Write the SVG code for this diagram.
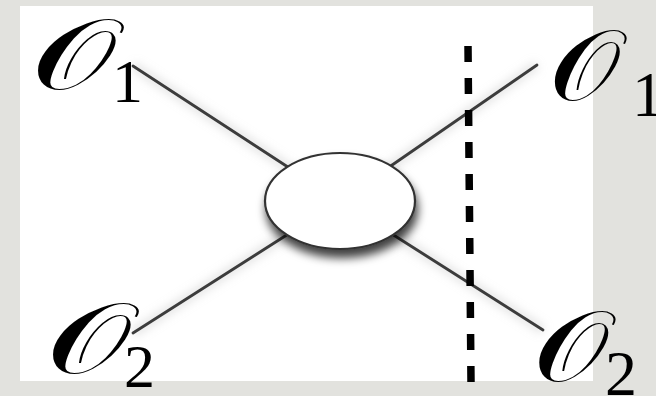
<svg xmlns="http://www.w3.org/2000/svg" width="656" height="396" viewBox="0 0 656 396">
  <defs>
    <filter id="blobShadow" x="-30%" y="-30%" width="160%" height="180%">
      <feDropShadow dx="2" dy="8" stdDeviation="5" flood-color="#000" flood-opacity="0.75"/>
    </filter>
    <filter id="haze" x="-10%" y="-10%" width="120%" height="120%">
      <feGaussianBlur stdDeviation="4"/>
    </filter>
  </defs>
  <style>
    .leg { stroke: #3c3c3c; stroke-width: 2.8; stroke-linecap: round; fill: none; }
    .legHaze { stroke: #bcbcbc; stroke-width: 10; fill: none; opacity: 0.35; }
    .cut { stroke: #000; stroke-width: 7.5; stroke-dasharray: 16 16; fill: none; }
    .op { font-family: "DejaVu Serif", "Liberation Serif", serif; font-size: 100px; fill: #000; }
    .sub { font-family: "Liberation Serif", serif; font-size: 62px; fill: #000; }
    .subR { font-family: "Liberation Serif", serif; font-size: 64px; fill: #000; }
  </style>

  <!-- page -->
  <rect x="0" y="0" width="656" height="396" fill="#e2e2de"/>
  <rect x="20" y="6" width="573" height="375" fill="#ffffff"/>

  <!-- connectors -->
  <g id="connectors">
    <g filter="url(#haze)">
      <line class="legHaze" x1="133" y1="66" x2="340" y2="201"/>
      <line class="legHaze" x1="537" y1="65" x2="340" y2="201"/>
      <line class="legHaze" x1="133" y1="333" x2="340" y2="201"/>
      <line class="legHaze" x1="543" y1="330" x2="340" y2="201"/>
    </g>
    <line class="leg" x1="133" y1="66" x2="340" y2="201"/>
    <line class="leg" x1="537" y1="65" x2="340" y2="201"/>
    <line class="leg" x1="133" y1="333" x2="340" y2="201"/>
    <line class="leg" x1="543" y1="330" x2="340" y2="201"/>
  </g>

  <!-- blob vertex -->
  <g id="vertex">
    <ellipse cx="340" cy="201" rx="75" ry="48" fill="#ffffff" stroke="#333" stroke-width="2.2" filter="url(#blobShadow)"/>
  </g>

  <!-- cut line -->
  <g id="cut">
    <line class="cut" x1="468" y1="46" x2="471" y2="382"/>
  </g>

  <!-- external operator labels -->
  <g id="label-tl">
    <text class="op" transform="translate(31,89) scale(1.35,1)">𝒪</text>
    <text class="sub" x="112" y="102">1</text>
  </g>
  <g id="label-bl">
    <text class="op" transform="translate(46,373) scale(1.35,1)">𝒪</text>
    <text class="sub" x="124" y="387">2</text>
  </g>
  <g id="label-tr">
    <text class="op" transform="translate(549,100) scale(1.13,1)">𝒪</text>
    <text class="subR" x="632" y="116">1</text>
  </g>
  <g id="label-br">
    <text class="op" transform="translate(533,381) scale(1.2,1)">𝒪</text>
    <text class="subR" x="605" y="395">2</text>
  </g>
</svg>
